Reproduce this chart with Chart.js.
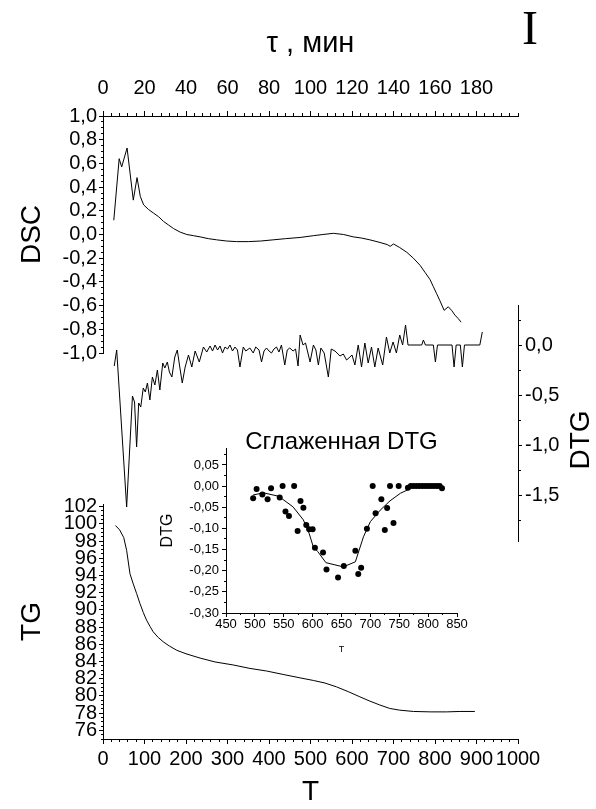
<!DOCTYPE html>
<html><head><meta charset="utf-8">
<script src="https://cdn.jsdelivr.net/npm/chart.js@4.4.1/dist/chart.umd.min.js"></script>
<style>
html,body{margin:0;padding:0;background:#fff;}
#wrap{position:relative;width:596px;height:809px;overflow:hidden;background:#fff;}
#wrap canvas{position:absolute;left:0;top:0;}
</style></head><body>
<div id="wrap">
<canvas id="cDSC" width="596" height="809"></canvas>
<canvas id="cTG" width="596" height="809"></canvas>
<canvas id="cDTG" width="596" height="809"></canvas>
<canvas id="cInset" width="596" height="809"></canvas>
</div>
<script>
// ---------- data ----------
const DSC_T = [26, 39, 45, 58, 73, 82, 90, 98, 110, 122, 134, 146, 158, 170, 186, 202, 218, 234, 254, 274, 298, 322, 350, 380, 410, 440, 475, 507, 530, 555, 580, 603, 623, 643, 665, 685, 692, 700, 715, 732, 748, 764, 776, 788, 796, 804, 812, 822, 832, 840, 848, 856, 863];
const DSC_V = [0.12, 0.64, 0.57, 0.73, 0.29, 0.48, 0.32, 0.25, 0.21, 0.18, 0.15, 0.11, 0.08, 0.05, 0.02, 0.00, -0.01, -0.02, -0.035, -0.045, -0.055, -0.06, -0.06, -0.055, -0.045, -0.035, -0.025, -0.01, 0.00, 0.01, 0.00, -0.02, -0.03, -0.045, -0.065, -0.085, -0.10, -0.08, -0.11, -0.15, -0.20, -0.26, -0.32, -0.38, -0.44, -0.50, -0.56, -0.64, -0.61, -0.64, -0.68, -0.71, -0.74];

const DTG_T = [27, 33, 57, 71, 76, 81, 86, 91, 97, 102, 107, 113, 119, 125, 131, 137, 144, 149, 155, 160, 166, 173, 179, 185, 191, 198, 206, 214, 222, 232, 242, 250, 258, 264, 270, 276, 282, 288, 294, 300, 306, 312, 318, 324, 330, 338, 344, 354, 362, 368, 376, 382, 388, 394, 400, 406, 412, 418, 424, 430, 438, 444, 450, 458, 464, 470, 475, 482, 488, 499, 507, 513, 519, 525, 533, 543, 550, 559, 571, 579, 587, 595, 600, 607, 615, 623, 631, 639, 647, 655, 663, 674, 683, 691, 699, 707, 715, 722, 729, 735, 768, 772, 777, 796, 801, 806, 841, 846, 851, 861, 866, 871, 908, 914];
const DTG_V = [-0.21, -0.05, -1.62, -0.51, -0.57, -1.02, -0.58, -0.62, -0.43, -0.47, -0.38, -0.55, -0.32, -0.40, -0.25, -0.45, -0.18, -0.23, -0.17, -0.27, -0.32, -0.12, -0.05, -0.22, -0.38, -0.22, -0.10, -0.22, -0.06, -0.17, -0.02, -0.07, -0.01, -0.06, 0.00, -0.05, -0.01, -0.08, -0.02, -0.04, 0.00, -0.06, -0.02, -0.05, -0.22, -0.02, -0.06, -0.03, -0.08, -0.02, -0.05, -0.17, -0.06, -0.03, -0.06, -0.08, -0.04, -0.02, -0.07, 0.00, -0.20, -0.05, -0.03, -0.06, -0.04, -0.21, 0.10, 0.00, 0.02, -0.17, 0.00, -0.05, -0.20, -0.03, -0.08, -0.32, -0.04, -0.06, -0.11, -0.09, -0.15, -0.12, -0.10, -0.20, 0.00, -0.22, 0.02, -0.18, -0.02, -0.22, -0.03, -0.20, 0.08, -0.08, 0.03, -0.08, 0.10, 0.00, 0.20, 0.00, 0.00, 0.05, 0.00, 0.00, -0.17, 0.00, 0.00, -0.22, 0.00, 0.00, -0.22, 0.00, 0.00, 0.13];

const TG_T = [30, 40, 50, 57, 65, 73, 81, 89, 97, 105, 113, 121, 133, 145, 160, 178, 200, 234, 270, 314, 354, 394, 434, 475, 507, 535, 563, 591, 619, 643, 667, 691, 715, 748, 790, 828, 860, 896];
const TG_V = [99.8, 99.3, 98.4, 96.9, 94.2, 93.0, 91.9, 90.75, 89.7, 88.8, 88.1, 87.45, 86.8, 86.3, 85.8, 85.3, 84.9, 84.4, 83.95, 83.6, 83.2, 82.9, 82.5, 82.1, 81.8, 81.5, 81.05, 80.5, 79.9, 79.4, 78.95, 78.55, 78.35, 78.2, 78.15, 78.15, 78.2, 78.2];

const INSET_DOT_T = [497, 503, 513, 522, 528, 543, 548, 553, 559, 568, 574, 579, 584, 589, 594, 600, 604, 618, 624, 644, 654, 674, 679, 684, 694, 704, 709, 719, 725, 729, 734, 740, 749, 765, 770, 775, 780, 785, 790, 795, 800, 805, 810, 815, 820, 824];
const INSET_DOT_V = [-0.029, -0.007, -0.020, -0.031, -0.005, -0.027, 0.000, -0.060, -0.071, 0.000, -0.106, -0.035, -0.051, -0.092, -0.102, -0.102, -0.146, -0.157, -0.197, -0.216, -0.189, -0.153, -0.208, -0.193, -0.101, 0.000, -0.064, -0.031, -0.104, -0.052, 0.000, -0.087, 0.000, -0.004, 0.000, 0.000, 0.000, 0.000, 0.000, 0.000, 0.000, 0.000, 0.000, 0.000, 0.000, -0.005];
const INSET_LINE_T = [497, 515, 541, 566, 584, 594, 601, 609, 623, 653, 674, 688, 700, 717, 734, 752, 766, 775, 800, 823];
const INSET_LINE_V = [-0.021, -0.016, -0.024, -0.049, -0.080, -0.112, -0.143, -0.155, -0.181, -0.191, -0.179, -0.120, -0.084, -0.057, -0.035, -0.017, -0.008, 0.000, 0.000, 0.000];

// ---------- tick labels ----------
const TAU_TICKS = [0, 20, 40, 60, 80, 100, 120, 140, 160, 180];
const T_TICKS = [0, 100, 200, 300, 400, 500, 600, 700, 800, 900, 1000];
const DSC_TICKS = [-1.0, -0.8, -0.6, -0.4, -0.2, 0.0, 0.2, 0.4, 0.6, 0.8, 1.0];
const TG_TICKS = [76, 78, 80, 82, 84, 86, 88, 90, 92, 94, 96, 98, 100, 102];
const DTG_TICKS = [-1.5, -1.0, -0.5, 0.0];
const INSET_X_TICKS = [450, 500, 550, 600, 650, 700, 750, 800, 850];
const INSET_Y_TICKS = [-0.30, -0.25, -0.20, -0.15, -0.10, -0.05, 0.00, 0.05];

// ---------- helpers ----------
Chart.defaults.font.family = '"Liberation Sans", Arial, Helvetica, sans-serif';
Chart.defaults.color = '#000';
Chart.defaults.animation = false;

const pts = (xs, ys) => xs.map((x, i) => ({ x: x, y: ys[i] }));
function tickRange(a, b, step) {
  const out = []; const n = Math.round((b - a) / step);
  for (let i = 0; i <= n; i++) out.push(+(a + i * step).toFixed(6));
  return out;
}
const fmt = (dec) => (v) => { if (Math.abs(v) < 1e-9) v = 0; return v.toFixed(dec).replace('.', ','); };

function axisCfg(o) {
  const cfg = {
    type: 'linear', axis: o.axis, position: o.position, display: true,
    min: o.min, max: o.max, bounds: 'data', weight: o.minor ? 0 : 1,
    afterBuildTicks: (sc) => { sc.ticks = o.ticks.map(v => ({ value: v })); },
    afterFit: (sc) => { if (o.axis === 'x') sc.height = o.size; else sc.width = o.size; },
    ticks: {
      display: !o.minor, autoSkip: false, maxRotation: 0, minRotation: 0,
      padding: o.pad || 0, color: '#000', font: { size: o.font || 12 },
      callback: o.fmt || ((v) => String(v))
    },
    grid: { display: true, drawOnChartArea: false, drawTicks: true, tickLength: o.tl, color: '#000', lineWidth: 1 },
    border: { display: !o.minor, color: '#000', width: 1 }
  };
  if (o.title) cfg.title = { display: true, text: o.title, color: '#000', font: { size: o.titleFont }, padding: o.titlePad };
  return cfg;
}
const hiddenT = { type: 'linear', axis: 'x', position: 'bottom', display: false, min: 0, max: 1000 };
const LINE = { borderColor: '#000', borderWidth: 1, pointRadius: 0, tension: 0, fill: false };
const basePlugins = { legend: { display: false }, tooltip: { enabled: false }, title: { display: false } };

// ---------- DSC panel (top) ----------
new Chart(document.getElementById('cDSC'), {
  type: 'line',
  data: { datasets: [Object.assign({ data: pts(DSC_T, DSC_V), xAxisID: 'xT', yAxisID: 'yDSC' }, LINE)] },
  options: {
    responsive: false, animation: false, events: [],
    layout: { padding: { left: 0, top: 0, right: 78, bottom: 456 } },
    plugins: basePlugins,
    scales: {
      xT: hiddenT,
      tau: axisCfg({ axis: 'x', position: 'top', min: 0, max: 200, ticks: TAU_TICKS, size: 116, tl: 5, pad: 11, font: 20,
        title: 'τ , мин', titleFont: 29, titlePad: { top: 27, bottom: 0 } }),
      tauMinor: axisCfg({ axis: 'x', position: 'top', min: 0, max: 200, ticks: tickRange(0, 200, 4), size: 0, tl: 3, minor: true }),
      yDSC: axisCfg({ axis: 'y', position: 'left', min: -1, max: 1, ticks: DSC_TICKS, size: 103, tl: 4, pad: 2, font: 20, fmt: fmt(1),
        title: 'DSC', titleFont: 28, titlePad: { top: 15, bottom: 0 } }),
      yDSCMinor: axisCfg({ axis: 'y', position: 'left', min: -1, max: 1, ticks: tickRange(-1, 1, 0.05), size: 0, tl: 2, minor: true })
    }
  }
});

// ---------- TG panel (bottom) ----------
new Chart(document.getElementById('cTG'), {
  type: 'line',
  data: { datasets: [Object.assign({ data: pts(TG_T, TG_V), xAxisID: 'x', yAxisID: 'yTG' }, LINE)] },
  options: {
    responsive: false, animation: false, events: [],
    layout: { padding: { left: 0, top: 504, right: 78, bottom: 0 } },
    plugins: basePlugins,
    scales: {
      x: axisCfg({ axis: 'x', position: 'bottom', min: 0, max: 1000, ticks: T_TICKS, size: 70, tl: 5, pad: 3, font: 20,
        title: 'T', titleFont: 28, titlePad: { top: 0, bottom: 0 } }),
      xMinor: axisCfg({ axis: 'x', position: 'bottom', min: 0, max: 1000, ticks: tickRange(0, 1000, 20), size: 0, tl: 3, minor: true }),
      yTG: axisCfg({ axis: 'y', position: 'left', min: 75, max: 102.3, ticks: TG_TICKS, size: 103, tl: 4, pad: 2, font: 20,
        title: 'TG', titleFont: 28, titlePad: { top: 15, bottom: 0 } }),
      yTGMinor: axisCfg({ axis: 'y', position: 'left', min: 75, max: 102.3, ticks: tickRange(75, 102, 0.5), size: 0, tl: 2, minor: true })
    }
  }
});

// ---------- DTG panel (middle, right axis) ----------
const freeText = {
  id: 'freeText',
  afterDraw(chart) {
    const ctx = chart.ctx;
    ctx.save();
    ctx.fillStyle = '#000';
    ctx.textAlign = 'center';
    ctx.textBaseline = 'middle';
    ctx.font = '28px "Liberation Sans", Arial, sans-serif';
    ctx.translate(chart.chartArea.right + 63, 440);
    ctx.rotate(-Math.PI / 2);
    ctx.fillText('DTG', 0, 0);
    ctx.restore();
    ctx.save();
    ctx.fillStyle = '#000';
    ctx.textAlign = 'center';
    ctx.textBaseline = 'middle';
    ctx.font = '48px "Liberation Serif", "Times New Roman", serif';
    ctx.fillText('I', 530, 31);
    ctx.restore();
  }
};
new Chart(document.getElementById('cDTG'), {
  type: 'line',
  data: { datasets: [Object.assign({ data: pts(DTG_T, DTG_V), xAxisID: 'xT', yAxisID: 'yDTG' }, LINE)] },
  options: {
    responsive: false, animation: false, events: [],
    layout: { padding: { left: 103, top: 305, right: 0, bottom: 268 } },
    plugins: basePlugins,
    scales: {
      xT: hiddenT,
      yDTG: axisCfg({ axis: 'y', position: 'right', min: -1.96, max: 0.4, ticks: DTG_TICKS, size: 78, tl: 4, pad: 3, font: 20, fmt: fmt(1) }),
      yDTGMinor: axisCfg({ axis: 'y', position: 'right', min: -1.96, max: 0.4, ticks: tickRange(-1.75, 0.25, 0.25), size: 0, tl: 3, minor: true })
    }
  },
  plugins: [freeText]
});

// ---------- inset: smoothed DTG ----------
new Chart(document.getElementById('cInset'), {
  type: 'line',
  data: { datasets: [
    Object.assign({ data: pts(INSET_LINE_T, INSET_LINE_V), xAxisID: 'ix', yAxisID: 'iy' }, LINE),
    { data: pts(INSET_DOT_T, INSET_DOT_V), xAxisID: 'ix', yAxisID: 'iy', showLine: false, pointRadius: 3,
      pointBackgroundColor: '#000', pointBorderWidth: 0, borderColor: '#000' }
  ] },
  options: {
    responsive: false, animation: false, events: [],
    layout: { padding: { left: 150, top: 436, right: 139, bottom: 139 } },
    plugins: {
      legend: { display: false }, tooltip: { enabled: false },
      title: { display: true, text: 'Сглаженная DTG', color: '#000', fullSize: false, padding: 0,
        font: { size: 24, weight: 'normal', lineHeight: 0.5 } }
    },
    scales: {
      ix: axisCfg({ axis: 'x', position: 'bottom', min: 450, max: 850, ticks: INSET_X_TICKS, size: 57, tl: 4, pad: 0, font: 13,
        title: 'T', titleFont: 9, titlePad: { top: 0, bottom: 15 } }),
      ixMinor: axisCfg({ axis: 'x', position: 'bottom', min: 450, max: 850, ticks: tickRange(450, 850, 25), size: 0, tl: 2, minor: true }),
      iy: axisCfg({ axis: 'y', position: 'left', min: -0.30, max: 0.09, ticks: INSET_Y_TICKS, size: 76, tl: 4, pad: 3, font: 13, fmt: fmt(2),
        title: 'DTG', titleFont: 16, titlePad: { top: 8, bottom: 0 } }),
      iyMinor: axisCfg({ axis: 'y', position: 'left', min: -0.30, max: 0.09, ticks: tickRange(-0.3, 0.075, 0.025), size: 0, tl: 2, minor: true })
    }
  }
});
</script>
</body></html>
